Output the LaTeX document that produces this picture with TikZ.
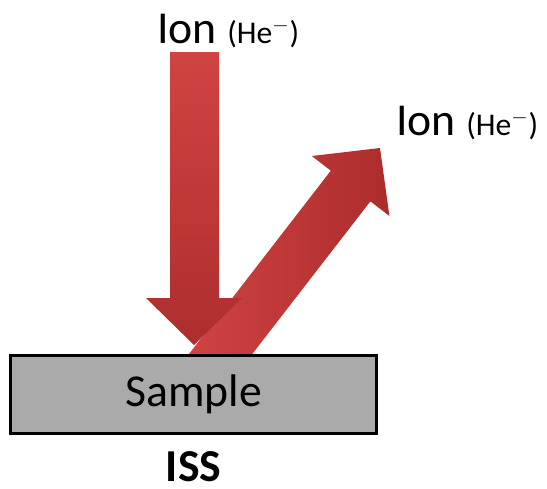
\documentclass[tikz,border=0pt]{standalone}
\usepackage{fontspec}
\setmainfont{Carlito}
\usetikzlibrary{positioning,calc}
\definecolor{ionred}{RGB}{208,68,66}
\definecolor{ionreddark}{RGB}{172,44,44}
\definecolor{samplegray}{RGB}{170,170,170}
\begin{document}
\begin{tikzpicture}[x=0.02cm,y=-0.02cm]
\tikzset{lbl/.style={inner sep=0pt,font=\fontsize{26}{29}\selectfont},
  box/.style={draw=black,line width=1.7pt,fill=samplegray,minimum width=7.34cm,minimum height=1.56cm,inner sep=0pt,font=\fontsize{26}{29}\selectfont}}
\useasboundingbox (0,0) rectangle (547,488);
% labels
\node[lbl,anchor=base west] (ion1) at (157,43) {Ion {\fontsize{18}{20}\selectfont(He$^{-}$)}};
\node[lbl,anchor=base west] (ion2) at (396,135) {Ion {\fontsize{18}{20}\selectfont(He$^{-}$)}};
\coordinate (vtop) at (194.5,52);
\coordinate (vtip) at (194,345);
\coordinate (dtip) at (380,148);
% reflected ion
\shade[left color=ionred,right color=ionreddark]
  (183.8,360.7) -- (330.8,170.7) -- (311.8,156) -- (dtip) -- (389.4,216) -- (370.4,201.3) -- (223.4,391.3) -- cycle;
% incoming ion
\shade[top color=ionred,bottom color=ionreddark!95!ionred]
  ($(vtop)+(-24.5,0)$) -- ($(vtop)+(24.5,0)$) -- (219,298) -- (242,298) -- (vtip) -- (146,298) -- (170,298) -- cycle;
% sample
\node[box] (smp) at (193.5,394) {Sample};
\node[lbl,font=\fontsize{26}{29}\selectfont\bfseries,below=0.34cm of smp] (iss) {ISS};
\end{tikzpicture}
\end{document}
